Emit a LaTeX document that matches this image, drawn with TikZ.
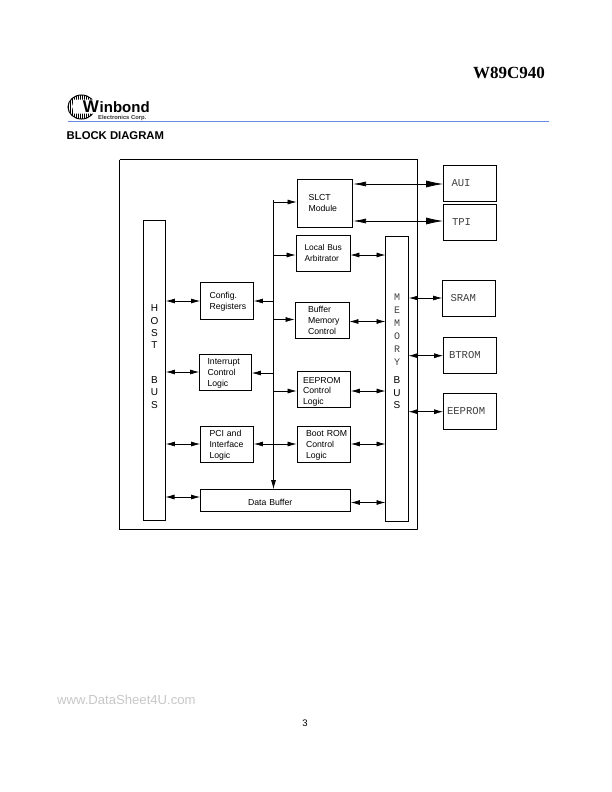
\documentclass[tikz,border=0pt]{standalone}
\usepackage{fontspec}
\setmainfont{Liberation Sans}
\newfontfamily\monofont{Liberation Mono}
\newfontfamily\titlefont{Liberation Serif}
\usetikzlibrary{arrows.meta}

\newcommand{\mch}[1]{{\monofont\color{black!75}#1}}

\tikzset{
    lbl/.style={font=\fontsize{8.7}{10.8}\selectfont},
    tdrop/.style={execute at begin node={\rule{0pt}{#1pt}}},
    block/.style n args={3}{draw, line width=0.8pt, lbl, align=left, anchor=center, inner ysep=0pt,
        minimum width=#1pt, minimum height=#2pt, inner xsep=#3pt, text width=#1pt-2*#3pt},
    extbox/.style={draw, line width=0.8pt, anchor=center, minimum width=53pt, minimum height=36pt,
        align=left, inner xsep=#1pt, text width=53pt-2*#1pt,
        font=\monofont\fontsize{10.6}{12}\selectfont, text=black!75},
    link/.style={line width=0.7pt, {Latex[length=9pt,width=5pt]}-{Latex[length=9pt,width=5pt]}},
    tap/.style={line width=0.7pt, -{Latex[length=9pt,width=5pt]}},
    bigtip/.style={line width=0.7pt, {Latex[length=13pt,width=5pt]}-{Latex[length=17pt,width=7pt]}},
}

\begin{document}
\begin{tikzpicture}[x=1pt, y=-1pt]
    \useasboundingbox (0,0) rectangle (612,792);

    % page header
    \node (part) [font=\titlefont\bfseries\fontsize{17}{18}\selectfont] at (509,72.5) {W89C940};
    \node (head) [font=\bfseries\fontsize{11.3}{13}\selectfont, anchor=west, inner sep=0pt] at (66.5,136) {BLOCK DIAGRAM};
    \draw[color={rgb,255:red,102;green,136;blue,221}, line width=0.8pt] (68,121.5) -- (549,121.5);

    % globe of the logo
    \begin{scope}
        \clip (81.5,107) ellipse (13.5 and 12);
        \draw[line width=0.25pt, step=2] (67,94) grid (96,120);
    \end{scope}
    \draw[line width=1pt] (81.5,107) ellipse (13.5 and 12);
    \fill[white] (74,99.5) -- (96,99.5) -- (96,113.5) -- (74,113.5) -- (72,106.5) -- cycle;
    \node (wmark) [font=\bfseries\fontsize{17}{18}\selectfont, inner sep=0pt] at (91,106.5) {W};
    \node (maker) [font=\bfseries\fontsize{15}{15}\selectfont, anchor=base west, inner sep=0pt] at (99.5,112) {inbond};
    \node (corp) [font=\bfseries\fontsize{5.8}{6}\selectfont, anchor=west, inner sep=0pt, text=black!80] at (98,117.5) {Electronics Corp.};

    % chip outline
    \draw[dash pattern=on 0.8pt off 0.1pt, line width=0.6pt] (119.5,159.5) rectangle (417,529);

    % buses
    \node (host) [block={22}{300}{0}] at (154.5,370) {};
    \node (mem)  [block={23}{284.5}{0}] at (397,378.75) {};
    \node (hostlbl) [font=\fontsize{10}{12.4}\selectfont, align=center, inner sep=0pt] at (154.5,356.5) {H\\O\\S\\T\\[22pt]B\\U\\S};
    \node (memlbl)  [font=\fontsize{10}{13.1}\selectfont, align=center, inner sep=0pt] at (397,351)
        {\mch{M}\\\mch{E}\\\mch{M}\\\mch{O}\\\mch{R}\\\mch{Y}\\[5pt]B\\[-1pt]U\\[-1pt]S};

    % blocks on the host side
    \node (cfg)  [block={53}{36.5}{9}, tdrop=8.5]  at (227,301)    {Config.\\Registers};
    \node (irq)  [block={52}{36}{8}, tdrop=8.5]    at (225.5,372)  {Interrupt\\Control\\Logic};
    \node (pci)  [block={53}{36}{9}, tdrop=8.5]    at (227,444)    {PCI and\\Interface\\Logic};
    \node (dbuf) [block={150}{22}{47.5}, tdrop=9.5] at (275.5,500.5) {Data Buffer};

    % blocks on the memory side
    \node (slct) [block={55.5}{48}{11.5}] at (324.75,203) {SLCT\\Module};
    \node (arb)  [block={54}{36}{8.5}, font=\fontsize{8.4}{10.8}\selectfont] at (323,253) {\mbox{Local Bus}\\Arbitrator};
    \node (bmc)  [block={54}{36}{13}, tdrop=7.5]   at (322,320)    {Buffer\\Memory\\Control};
    \node (eec)  [block={53.5}{36}{6}, tdrop=10.5]  at (323.75,389.5) {EEPROM\\Control\\Logic};
    \node (brc)  [block={53.5}{36}{9}, tdrop=8.5]  at (323.75,444) {\mbox{Boot ROM}\\Control\\Logic};

    % external parts
    \node (aui)   [extbox=8]   at (470,183.5) {AUI};
    \node (tpi)   [extbox=8.5] at (470,222.5) {TPI};
    \node (sram)  [extbox=8]   at (469,298)   {SRAM};
    \node (btrom) [extbox=5.5] at (470,355)   {BTROM};
    \node (eeprom)[extbox=3.5] at (470,411)   {EEPROM};

    % internal bus
    \coordinate (bustop) at (273.5,199.5);
    \coordinate (busslct) at (273.5,202);
    \coordinate (busarb) at (273.5,255);
    \coordinate (buscfg) at (273.5,301);
    \coordinate (busbmc) at (273.5,319.5);
    \coordinate (busirq) at (273.5,373);
    \coordinate (buseec) at (273.5,391);
    \coordinate (buspci) at (273.5,444);
    \draw[tap] (bustop) -- (bustop |- dbuf.north);
    \draw[tap] (busslct) -- (busslct -| slct.west);
    \draw[tap] (busarb) -- (busarb -| arb.west);
    \draw[tap] (buscfg) -- (buscfg -| cfg.east);
    \draw[tap] (busbmc) -- (busbmc -| bmc.west);
    \draw[tap] (busirq) -- (busirq -| irq.east);
    \draw[tap] (buseec) -- (buseec -| eec.west);
    \draw[link] (buspci -| pci.east) -- (buspci -| brc.west);

    % host bus links
    \draw[link] (host.east |- cfg) -- (cfg.west);
    \draw[link] (host.east |- irq) -- (irq.west);
    \draw[link] (host.east |- pci) -- (pci.west);
    \coordinate (hostbuf) at (165.5,497);
    \draw[link] (hostbuf) -- (hostbuf -| dbuf.west);

    % memory bus links
    \coordinate (memarb) at (385.5,255);
    \coordinate (membmc) at (385.5,321.5);
    \coordinate (memeec) at (385.5,391);
    \coordinate (membrc) at (385.5,444);
    \coordinate (membuf) at (385.5,502.5);
    \draw[link] (memarb -| arb.east) -- (memarb);
    \draw[link] (membmc -| bmc.east) -- (membmc);
    \draw[link] (memeec -| eec.east) -- (memeec);
    \draw[link] (membrc -| brc.east) -- (membrc);
    \draw[link] (membuf -| dbuf.east) -- (membuf);

    % links to the outside
    \coordinate (slctaui) at (353,184);
    \coordinate (slcttpi) at (353,221);
    \draw[bigtip] (slctaui) -- (slctaui -| aui.west);
    \draw[bigtip] (slcttpi) -- (slcttpi -| tpi.west);
    \draw[link] (mem.east |- sram) -- (sram.west);
    \coordinate (memrom) at (408.5,355.7);
    \coordinate (memee) at (408.5,411.7);
    \draw[link] (memrom) -- (memrom -| btrom.west);
    \draw[link] (memee) -- (memee -| eeprom.west);

    % page footer
    \node (site) [font=\fontsize{13.1}{15}\selectfont, text=black!22, anchor=west, inner sep=0pt] at (57,700) {www.DataSheet4U.com};
    \node (page) [font=\fontsize{9.5}{11}\selectfont, inner sep=0pt] at (305,723) {3};
\end{tikzpicture}
\end{document}
